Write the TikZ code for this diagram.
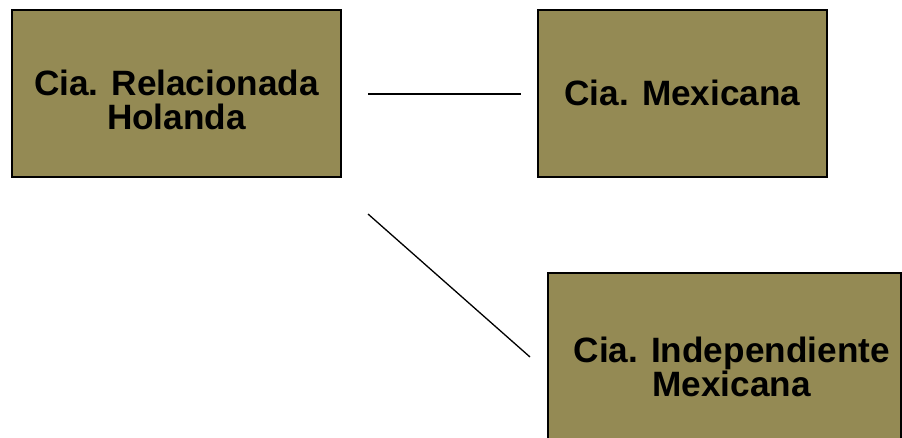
\documentclass[tikz,border=0pt]{standalone}
\usepackage{fontspec}
\setmainfont{Liberation Sans}
\definecolor{olivebox}{HTML}{948A54}
\begin{document}
\begin{tikzpicture}[x=1pt,y=-1pt,
  box/.style={draw=black, line width=2pt, fill=olivebox, rectangle, inner sep=0pt},
  txt/.style={inner sep=0pt, align=center, font=\fontsize{35.2}{34}\selectfont\bfseries},
  link/.style={draw=black}]
\useasboundingbox (0,0) rectangle (902,438);
\clip (0,0) rectangle (902,438);
\node[box, minimum width=329pt, minimum height=167pt] (rel) at (176.5,93.5) {};
\node[box, minimum width=289pt, minimum height=167pt] (mex) at (682.5,93.5) {};
\node[box, minimum width=353pt, minimum height=180pt] (ind) at (724.5,363) {};
\node[txt] (relt) at (176.5,99.8) {Cia. Relacionada\\Holanda};
\node[txt] (mext) at (682.5,92.5) {Cia. Mexicana};
\node[txt, font=\fontsize{35.2}{31}\selectfont\bfseries] (indt) at (731.7,366.7) {Cia. Independiente\\Mexicana};
\coordinate (h1) at (368,94.5);
\coordinate (h2) at (521,94.5);
\coordinate (d1) at (368,214);
\coordinate (d2) at (530,357);
\draw[link, line width=2pt] (h1) -- (h2);
\draw[link, line width=1.3pt] (d1) -- (d2);
\end{tikzpicture}
\end{document}
